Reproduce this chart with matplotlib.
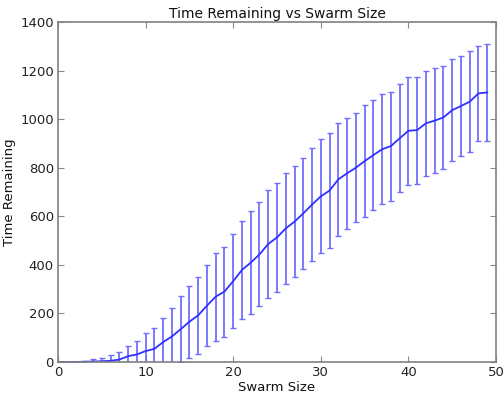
import matplotlib
matplotlib.use("Agg")
import matplotlib.pyplot as plt
import numpy as np

swarm_size = list(range(50))
time_mean = [0, 0, 0, 1, 2, 3, 5, 10, 24, 31,
             45, 54, 82, 105, 135, 166, 192, 232, 269, 290,
             333, 379, 409, 443, 486, 513, 550, 578, 612, 648,
             682, 706, 752, 777, 800, 827, 852, 876, 889, 921,
             952, 955, 983, 994, 1007, 1037, 1054, 1072, 1106, 1110]
time_err = [0, 0, 0, 3, 9, 12, 23, 30, 42, 55,
            75, 86, 101, 117, 136, 148, 159, 166, 181, 185,
            193, 203, 213, 214, 222, 223, 227, 230, 230, 232,
            235, 236, 233, 229, 225, 231, 225, 227, 224, 222,
            223, 220, 216, 215, 213, 209, 207, 208, 195, 198]

plt.rcParams['font.family'] = ['DejaVu Sans']
fig = plt.figure(figsize=(5.03, 3.94), dpi=100)
ax = fig.add_axes([58/503, 32/394, 438/503, 340/394])

ax.errorbar(swarm_size, time_mean, yerr=time_err, color='#3030ff', lw=1.3,
            ecolor='#6f6fff', elinewidth=1.3, capsize=2.5, capthick=1.0)

ax.set_xlim(0, 50)
ax.set_ylim(0, 1400)
ax.set_xticks([0, 10, 20, 30, 40, 50])
ax.set_yticks(range(0, 1401, 200))
ax.tick_params(direction='in', top=True, right=True, length=4, width=0.8,
               colors='#888888', labelcolor='#222222', labelsize=9.5, pad=3)
for s in ax.spines.values():
    s.set_color('#808080')
    s.set_linewidth(1.2)
ax.set_title('Time Remaining vs Swarm Size', fontsize=10, color='#111111', pad=3)
ax.set_xlabel('Swarm Size', fontsize=9.5, labelpad=1, color='#111111')
ax.set_ylabel('Time Remaining', fontsize=9.5, labelpad=3, color='#111111')

fig.savefig('out.png', dpi=100)
